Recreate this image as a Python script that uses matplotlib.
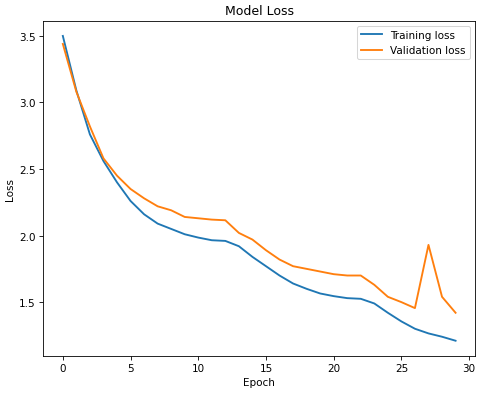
import matplotlib
matplotlib.use("Agg")
import matplotlib.pyplot as plt

# loss values
epochs = list(range(30))
train_loss = [3.50, 3.09, 2.76, 2.56, 2.40, 2.26, 2.16, 2.09, 2.05, 2.01,
              1.985, 1.965, 1.96, 1.92, 1.84, 1.77, 1.70, 1.64, 1.60, 1.565,
              1.545, 1.53, 1.525, 1.49, 1.42, 1.355, 1.30, 1.265, 1.24, 1.21]
val_loss = [3.44, 3.08, 2.82, 2.58, 2.45, 2.35, 2.28, 2.22, 2.19, 2.14,
            2.13, 2.12, 2.115, 2.02, 1.97, 1.89, 1.82, 1.77, 1.75, 1.73,
            1.71, 1.70, 1.70, 1.63, 1.54, 1.50, 1.455, 1.93, 1.54, 1.42]

fig = plt.figure(figsize=(6.4, 5.253), dpi=75)
fig.subplots_adjust(left=0.09, right=0.99, top=0.945, bottom=0.094)

plt.plot(epochs, train_loss, lw=1.8, label='Training loss')
plt.plot(epochs, val_loss, lw=1.8, label='Validation loss')
plt.title('Model Loss')
plt.xlabel('Epoch')
plt.ylabel('Loss')
plt.legend()

plt.savefig('out.png', dpi=75)
